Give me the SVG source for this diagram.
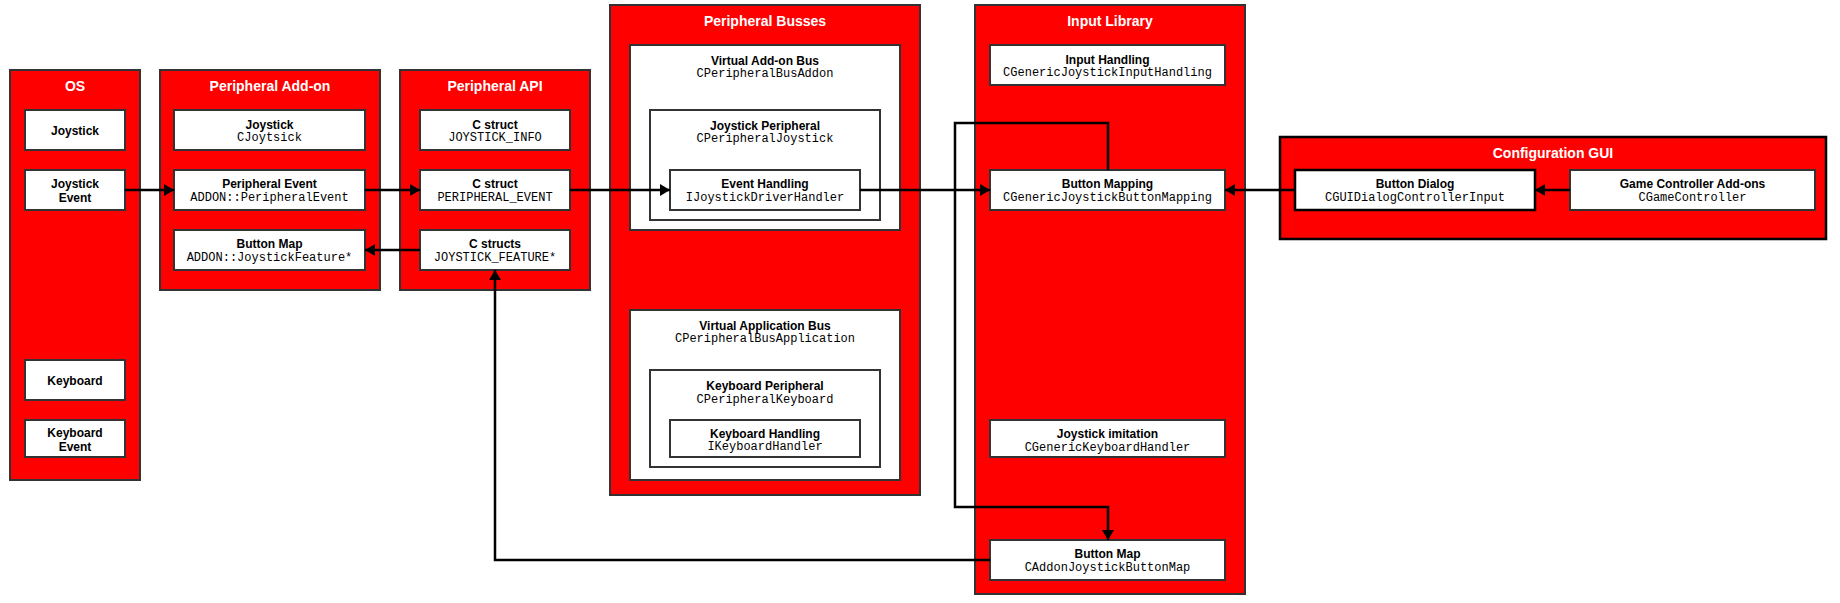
<svg xmlns="http://www.w3.org/2000/svg" width="1840" height="603" viewBox="0 0 1840 603">
<defs>
<style>
.cont{fill:#ff0000;stroke:#333;stroke-width:2}
.contb{fill:#ff0000;stroke:#000;stroke-width:2.5}
.box{fill:#fff;stroke:#333;stroke-width:2}
.boxb{fill:#fff;stroke:#000;stroke-width:2.5}
.title{font-family:"Liberation Sans",Arial,sans-serif;font-weight:bold;font-size:14px;fill:#fff;text-anchor:middle}
.lbl{font-family:"Liberation Sans",Arial,sans-serif;font-weight:bold;font-size:12px;fill:#000;text-anchor:middle}
.code{font-family:"Liberation Mono","Courier New",monospace;font-size:12px;fill:#000;text-anchor:middle}
.conn{fill:none;stroke:#000;stroke-width:2.5}
</style>
<marker id="arr" markerUnits="userSpaceOnUse" markerWidth="10" markerHeight="12" refX="10" refY="6" orient="auto">
<path d="M0,0 L10,6 L0,12 z" fill="#000"/>
</marker>
</defs>

<g id="os">
<rect class="cont" x="10" y="70" width="130" height="410"/>
<text class="title" x="75" y="91">OS</text>
</g>
<g id="os-joystick"><rect class="box" x="25" y="110" width="100" height="40"/><text class="lbl" x="75" y="134.5">Joystick</text></g>
<g id="os-joystick-event"><rect class="box" x="25" y="170" width="100" height="40"/><text class="lbl" x="75" y="187.5">Joystick</text><text class="lbl" x="75" y="201.5">Event</text></g>
<g id="os-keyboard"><rect class="box" x="25" y="360" width="100" height="40"/><text class="lbl" x="75" y="384.5">Keyboard</text></g>
<g id="os-keyboard-event"><rect class="box" x="25" y="420" width="100" height="37"/><text class="lbl" x="75" y="436.5">Keyboard</text><text class="lbl" x="75" y="450.5">Event</text></g>

<g id="addon">
<rect class="cont" x="160" y="70" width="220" height="220"/>
<text class="title" x="270" y="91">Peripheral Add-on</text>
</g>
<g id="addon-joystick"><rect class="box" x="174" y="110" width="191" height="40"/><text class="lbl" x="269.5" y="128.5">Joystick</text><text class="code" x="269.5" y="141">CJoytsick</text></g>
<g id="addon-event"><rect class="box" x="174" y="170" width="191" height="40"/><text class="lbl" x="269.5" y="188">Peripheral Event</text><text class="code" x="269.5" y="201">ADDON::PeripheralEvent</text></g>
<g id="addon-buttonmap"><rect class="box" x="174" y="230" width="191" height="40"/><text class="lbl" x="269.5" y="248">Button Map</text><text class="code" x="269.5" y="261">ADDON::JoystickFeature*</text></g>

<g id="api">
<rect class="cont" x="400" y="70" width="190" height="220"/>
<text class="title" x="495" y="91">Peripheral API</text>
</g>
<g id="api-info"><rect class="box" x="420" y="110" width="150" height="40"/><text class="lbl" x="495" y="128.5">C struct</text><text class="code" x="495" y="141">JOYSTICK_INFO</text></g>
<g id="api-event"><rect class="box" x="420" y="170" width="150" height="40"/><text class="lbl" x="495" y="188">C struct</text><text class="code" x="495" y="201">PERIPHERAL_EVENT</text></g>
<g id="api-feature"><rect class="box" x="420" y="230" width="150" height="40"/><text class="lbl" x="495" y="248">C structs</text><text class="code" x="495" y="261">JOYSTICK_FEATURE*</text></g>

<g id="busses">
<rect class="cont" x="610" y="5" width="310" height="490"/>
<text class="title" x="765" y="26">Peripheral Busses</text>
</g>
<g id="addon-bus"><rect class="box" x="630" y="45" width="270" height="185"/><text class="lbl" x="765" y="64.5">Virtual Add-on Bus</text><text class="code" x="765" y="77">CPeripheralBusAddon</text></g>
<g id="joystick-peripheral"><rect class="box" x="650" y="110" width="230" height="110"/><text class="lbl" x="765" y="129.5">Joystick Peripheral</text><text class="code" x="765" y="142">CPeripheralJoystick</text></g>
<g id="event-handling"><rect class="box" x="670" y="170" width="190" height="40"/><text class="lbl" x="765" y="188">Event Handling</text><text class="code" x="765" y="201">IJoystickDriverHandler</text></g>
<g id="app-bus"><rect class="box" x="630" y="310" width="270" height="170"/><text class="lbl" x="765" y="329.5">Virtual Application Bus</text><text class="code" x="765" y="342">CPeripheralBusApplication</text></g>
<g id="keyboard-peripheral"><rect class="box" x="650" y="370" width="230" height="97"/><text class="lbl" x="765" y="389.5">Keyboard Peripheral</text><text class="code" x="765" y="403">CPeripheralKeyboard</text></g>
<g id="keyboard-handling"><rect class="box" x="670" y="420" width="190" height="37"/><text class="lbl" x="765" y="437.5">Keyboard Handling</text><text class="code" x="765" y="450">IKeyboardHandler</text></g>

<g id="input-library">
<rect class="cont" x="975" y="5" width="270" height="589"/>
<text class="title" x="1110" y="26">Input Library</text>
</g>
<g id="input-handling"><rect class="box" x="990" y="45" width="235" height="40"/><text class="lbl" x="1107.5" y="63.5">Input Handling</text><text class="code" x="1107.5" y="76">CGenericJoystickInputHandling</text></g>
<g id="button-mapping"><rect class="box" x="990" y="170" width="235" height="40"/><text class="lbl" x="1107.5" y="187.5">Button Mapping</text><text class="code" x="1107.5" y="201">CGenericJoystickButtonMapping</text></g>
<g id="joystick-imitation"><rect class="box" x="990" y="420" width="235" height="37"/><text class="lbl" x="1107.5" y="437.5">Joystick imitation</text><text class="code" x="1107.5" y="451">CGenericKeyboardHandler</text></g>
<g id="il-button-map"><rect class="box" x="990" y="540" width="235" height="40"/><text class="lbl" x="1107.5" y="557.5">Button Map</text><text class="code" x="1107.5" y="571">CAddonJoystickButtonMap</text></g>

<g id="config-gui">
<rect class="contb" x="1280" y="137" width="546" height="102"/>
<text class="title" x="1553" y="158">Configuration GUI</text>
</g>
<g id="button-dialog"><rect class="boxb" x="1295" y="170" width="240" height="40"/><text class="lbl" x="1415" y="187.5">Button Dialog</text><text class="code" x="1415" y="201">CGUIDialogControllerInput</text></g>
<g id="game-controller"><rect class="box" x="1570" y="170" width="245" height="40"/><text class="lbl" x="1692.5" y="187.5">Game Controller Add-ons</text><text class="code" x="1692.5" y="201">CGameController</text></g>

<g id="connectors">
<path class="conn" d="M125,190 H174" marker-end="url(#arr)"/>
<path class="conn" d="M365,190 H420" marker-end="url(#arr)"/>
<path class="conn" d="M420,250 H365" marker-end="url(#arr)"/>
<path class="conn" d="M570,190 H670" marker-end="url(#arr)"/>
<path class="conn" d="M860,190 H990" marker-end="url(#arr)"/>
<path class="conn" d="M1295,190 H1225" marker-end="url(#arr)"/>
<path class="conn" d="M1570,190 H1535" marker-end="url(#arr)"/>
<path class="conn" d="M1108,170 V123 H955 V507 H1108 V540" marker-end="url(#arr)"/>
<path class="conn" d="M990,560 H495 V270" marker-end="url(#arr)"/>
</g>
</svg>
